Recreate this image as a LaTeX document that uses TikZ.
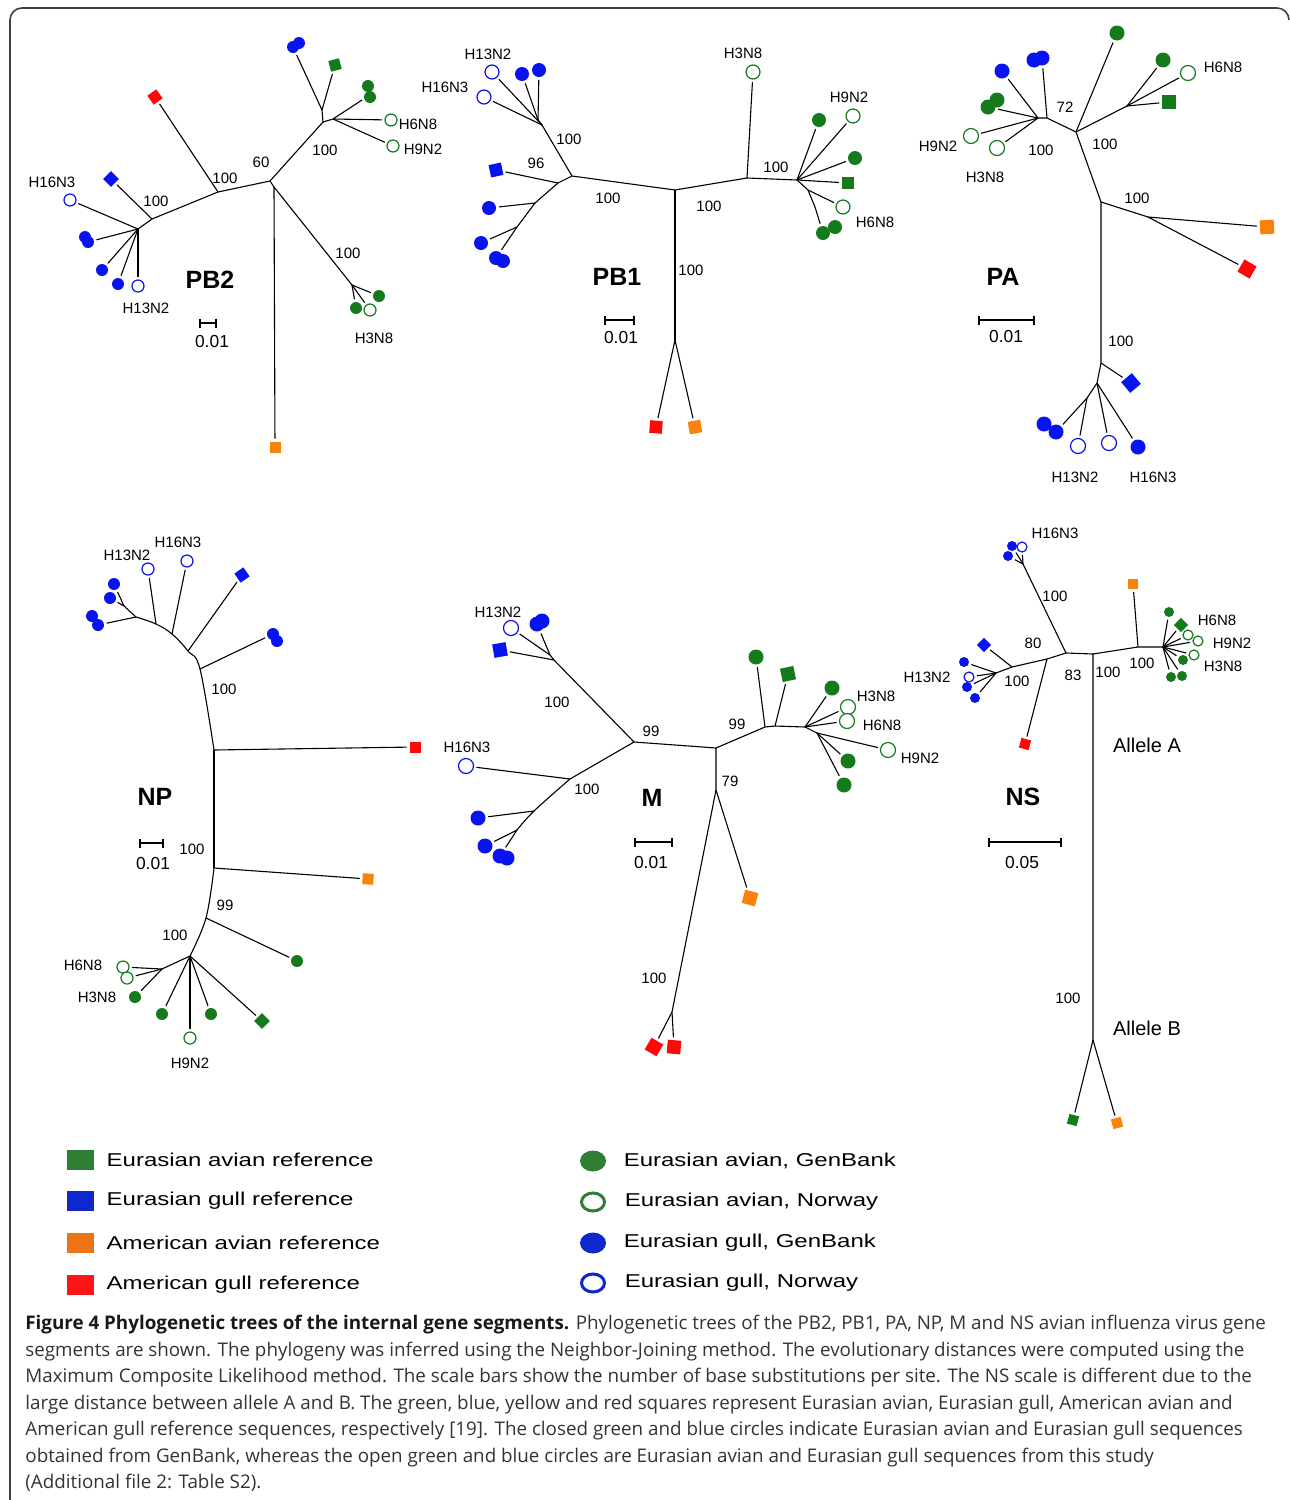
\documentclass[tikz,border=0pt]{standalone}
\usepackage{fontspec}
\setmainfont{Liberation Sans}
\newfontfamily\capfont{Open Sans}
\newfontfamily\legfont[FakeStretch=1.29]{Liberation Sans}
\usetikzlibrary{arrows.meta,positioning,shapes.geometric}

\definecolor{avgreen}{RGB}{20,122,28}
\definecolor{gullblue}{RGB}{8,20,238}
\definecolor{amorange}{RGB}{250,130,10}
\definecolor{amred}{RGB}{255,8,8}
\definecolor{legreen}{RGB}{46,126,52}
\definecolor{leblue}{RGB}{14,40,206}
\definecolor{leorange}{RGB}{236,116,22}
\definecolor{lered}{RGB}{250,22,22}

\newcommand\dotsz{6pt}
\newcommand\boxsz{5.5pt}

\tikzset{
  branch/.style={line width=0.55pt},
  twig/.style={line width=0.55pt, shorten >=1.2pt},
  dotleaf/.style={circle, inner sep=0pt, minimum size=\dotsz},
  boxleaf/.style={rectangle, inner sep=0pt, minimum size=\boxsz},
  avref/.style={boxleaf, fill=avgreen},
  gullref/.style={boxleaf, fill=gullblue},
  amavref/.style={boxleaf, fill=amorange},
  amgullref/.style={boxleaf, fill=amred},
  avgb/.style={dotleaf, fill=avgreen},
  avno/.style={dotleaf, draw=avgreen, fill=white, line width=0.6pt},
  gullgb/.style={dotleaf, fill=gullblue},
  gullno/.style={dotleaf, draw=gullblue, fill=white, line width=0.6pt},
  strain/.style={font=\fontsize{7.5}{9}\selectfont, inner sep=1pt},
  boot/.style={font=\fontsize{7.5}{9}\selectfont, inner sep=1pt},
  gene/.style={font=\fontsize{12.5}{15}\selectfont\bfseries},
  scalebar/.style={line width=0.8pt, {Bar[width=4.5pt]}-{Bar[width=4.5pt]}},
  scaletxt/.style={font=\fontsize{8.7}{10}\selectfont},
  allele/.style={font=\fontsize{10}{12}\selectfont},
  legbox/.style={rectangle, inner sep=0pt, minimum width=13.5pt, minimum height=10pt},
  legdot/.style={ellipse, inner sep=0pt, minimum width=13pt, minimum height=10.5pt},
  legtxt/.style={font=\legfont\fontsize{9.3}{11}\selectfont, inner sep=0pt},
  capnode/.style={font=\capfont\fontsize{9.4}{13.25}\selectfont, align=left, inner sep=0pt, text=black!80}
}

\begin{document}
\begin{tikzpicture}[x=0.5pt,y=-0.5pt]
\useasboundingbox (0,0) rectangle (1290,1500);
\draw[line width=0.8pt, black!75, rounded corners=6pt] (10,1500) -- (10,8) -- (1289,8) -- (1289,20);

% PB2
\begin{scope}
\renewcommand\dotsz{6pt}\renewcommand\boxsz{5.5pt}
\coordinate (pb2R) at (270,181);
\coordinate (pb2Q) at (274,187);
\coordinate (pb2A) at (218,192);
\coordinate (pb2B) at (152,219);
\coordinate (pb2C) at (138,229);
\coordinate (pb2D) at (323,122);
\coordinate (pb2E) at (322,110);
\coordinate (pb2F) at (333,119);
\coordinate (pb2Fg) at (362,100);
\coordinate (pb2G) at (352,285);
\node[amavref] (pb2or) at (275,447) {};
\node[amgullref, rotate=35] (pb2rd) at (155,97) {};
\node[gullref, rotate=45] (pb2bq) at (111,179) {};
\node[gullno] (pb2h16) at (70,200) {};
\node[gullgb] (pb2b1) at (88,242) {};
\node[gullgb] (pb2b2) at (85,237) {};
\node[gullgb] (pb2b3) at (102,270) {};
\node[gullgb] (pb2b4) at (118,284) {};
\node[gullno] (pb2h13) at (138,286) {};
\node[gullgb] (pb2b5) at (299,43) {};
\node[gullgb] (pb2b6) at (293,47) {};
\node[avref, rotate=15] (pb2gq) at (335,65) {};
\node[avgb] (pb2g1) at (368,86) {};
\node[avgb] (pb2g2) at (370,97) {};
\node[avno] (pb2h6) at (391,120) {};
\node[avno] (pb2h9) at (393,146) {};
\node[avgb] (pb2g3) at (379,296) {};
\node[avno] (pb2h3) at (370,310) {};
\node[avgb] (pb2g4) at (356,308) {};
\draw[branch] (pb2A) -- (pb2R) -- (pb2D) -- (pb2E);
\draw[branch] (pb2R) -- (pb2Q) -- (pb2G);
\draw[branch] (pb2A) -- (pb2B) -- (pb2C);
\draw[branch] (pb2D) -- (pb2F) -- (pb2Fg);
\draw[twig] (pb2Q) -- (pb2or);
\draw[twig] (pb2A) -- (pb2rd);
\draw[twig] (pb2B) -- (pb2bq);
\draw[twig] (pb2C) -- (pb2h16);
\draw[twig] (pb2C) -- (pb2b1);
\draw[twig] (pb2C) -- (pb2b3);
\draw[twig] (pb2C) -- (pb2b4);
\draw[twig] (pb2C) -- (pb2h13);
\draw[twig] (pb2E) -- (pb2b6);
\draw[twig] (pb2E) -- (pb2gq);
\draw[twig] (pb2Fg) -- (pb2g2);
\draw[twig] (pb2F) -- (pb2h6);
\draw[twig] (pb2F) -- (pb2h9);
\draw[twig] (pb2G) -- (pb2g3);
\draw[twig] (pb2G) -- (pb2h3);
\draw[twig] (pb2G) -- (pb2g4);
\node[strain] (pb2t16) at (52,182) {H16N3};
\node[strain] (pb2t13) at (146,308) {H13N2};
\node[strain] (pb2t6) at (418,124) {H6N8};
\node[strain] (pb2t9) at (423,149) {H9N2};
\node[strain] (pb2t3) at (374,338) {H3N8};
\node[boot] (pb2n1) at (225,178) {100};
\node[boot] (pb2n2) at (156,201) {100};
\node[boot] (pb2n3) at (261,162) {60};
\node[boot] (pb2n4) at (325,150) {100};
\node[boot] (pb2n5) at (348,253) {100};
\node[gene] (pb2) at (210,280) {PB2};
\coordinate (pb2s1) at (199,323);
\coordinate (pb2s2) at (217,323);
\draw[scalebar] (pb2s1) -- (pb2s2);
\node[scaletxt] (pb2st) at (212,342) {0.01};
\end{scope}

% PB1
\begin{scope}
\renewcommand\dotsz{7pt}\renewcommand\boxsz{6.3pt}
\coordinate (pb1R) at (675,190);
\coordinate (pb1S) at (675,340);
\coordinate (pb1A) at (572,176);
\coordinate (pb1B) at (542,125);
\coordinate (pb1Bb) at (538,120);
\coordinate (pb1C) at (558,183);
\coordinate (pb1D) at (535,203);
\coordinate (pb1E) at (517,227);
\coordinate (pb1F) at (747,178);
\coordinate (pb1G) at (797,180);
\coordinate (pb1Gb) at (808,190);
\coordinate (pb1Gc) at (815,207);
\node[amgullref, rotate=-5] (pb1rd) at (656,427) {};
\node[amavref, rotate=10] (pb1or) at (695,427) {};
\node[gullno] (pb1h16) at (484,97) {};
\node[gullno] (pb1h13) at (492,72) {};
\node[gullgb] (pb1b1) at (522,74) {};
\node[gullgb] (pb1b2) at (539,70) {};
\node[gullref, rotate=12] (pb1bq) at (496,170) {};
\node[gullgb] (pb1b3) at (489,208) {};
\node[gullgb] (pb1b4) at (481,243) {};
\node[gullgb] (pb1b5) at (496,258) {};
\node[gullgb] (pb1b6) at (503,261) {};
\node[avno] (pb1h3) at (753,72) {};
\node[avno] (pb1h9) at (853,116) {};
\node[avgb] (pb1g1) at (819,120) {};
\node[avgb] (pb1g2) at (855,158) {};
\node[avref] (pb1gq) at (848,183) {};
\node[avno] (pb1h6) at (843,207) {};
\node[avgb] (pb1g3) at (835,227) {};
\node[avgb] (pb1g4) at (823,233) {};
\draw[branch] (pb1B) -- (pb1A) -- (pb1R) -- (pb1F) -- (pb1G) -- (pb1Gb) -- (pb1Gc);
\draw[branch] (pb1A) -- (pb1C) -- (pb1D) -- (pb1E);
\draw[branch] (pb1R) -- (pb1S);
\draw[branch] (pb1B) -- (pb1Bb);
\draw[twig] (pb1S) -- (pb1rd);
\draw[twig] (pb1S) -- (pb1or);
\draw[twig] (pb1B) -- (pb1h16);
\draw[twig] (pb1B) -- (pb1h13);
\draw[twig] (pb1Bb) -- (pb1b1);
\draw[twig] (pb1Bb) -- (pb1b2);
\draw[twig] (pb1C) -- (pb1bq);
\draw[twig] (pb1D) -- (pb1b3);
\draw[twig] (pb1E) -- (pb1b4);
\draw[twig] (pb1E) -- (pb1b5);
\draw[twig] (pb1F) -- (pb1h3);
\draw[twig] (pb1G) -- (pb1h9);
\draw[twig] (pb1G) -- (pb1g1);
\draw[twig] (pb1G) -- (pb1g2);
\draw[twig] (pb1G) -- (pb1gq);
\draw[twig] (pb1Gb) -- (pb1h6);
\draw[twig] (pb1Gc) -- (pb1g4);
\node[strain] (pb1t13) at (488,54) {H13N2};
\node[strain] (pb1t16) at (445,87) {H16N3};
\node[strain] (pb1t3) at (743,53) {H3N8};
\node[strain] (pb1t9) at (849,97) {H9N2};
\node[strain] (pb1t6) at (875,222) {H6N8};
\node[boot] (pb1n1) at (569,139) {100};
\node[boot] (pb1n2) at (536,163) {96};
\node[boot] (pb1n3) at (608,198) {100};
\node[boot] (pb1n4) at (709,206) {100};
\node[boot] (pb1n5) at (776,167) {100};
\node[boot] (pb1n6) at (691,270) {100};
\node[gene] (pb1) at (617,277) {PB1};
\coordinate (pb1s1) at (604,320);
\coordinate (pb1s2) at (635,320);
\draw[scalebar] (pb1s1) -- (pb1s2);
\node[scaletxt] (pb1st) at (621,338) {0.01};
\end{scope}

% PA
\begin{scope}
\renewcommand\dotsz{7.5pt}\renewcommand\boxsz{7pt}
\coordinate (paR) at (1076,132);
\coordinate (paS) at (1101,202);
\coordinate (paT) at (1148,217);
\coordinate (paU) at (1101,363);
\coordinate (paV) at (1097,383);
\coordinate (paW) at (1087,398);
\coordinate (paY) at (1127,106);
\coordinate (paZ) at (1047,118);
\coordinate (paZb) at (1038,118);
\node[avgb] (pag1) at (1117,33) {};
\node[avgb] (pag2) at (1163,60) {};
\node[avno] (pah6) at (1188,73) {};
\node[avref] (pagq) at (1169,102) {};
\node[amavref, rotate=3] (paor) at (1267,227) {};
\node[amgullref, rotate=-30] (pard) at (1247,269) {};
\node[gullref, rotate=40] (pabq) at (1131,383) {};
\node[gullgb] (pab1) at (1044,424) {};
\node[gullgb] (pab2) at (1056,432) {};
\node[gullno] (pah13) at (1078,446) {};
\node[gullno] (pao2) at (1109,443) {};
\node[gullgb] (pab3) at (1138,447) {};
\node[gullgb] (pab4) at (1034,60) {};
\node[gullgb] (pab5) at (1042,58) {};
\node[gullgb] (pab6) at (1002,71) {};
\node[avno] (pah9) at (971,136) {};
\node[avno] (pah3) at (997,148) {};
\node[avgb] (pag3) at (988,107) {};
\node[avgb] (pag4) at (997,100) {};
\draw[branch] (paZb) -- (paZ) -- (paR) -- (paS) -- (paU) -- (paV) -- (paW);
\draw[branch] (paS) -- (paT);
\draw[branch] (paR) -- (paY);
\draw[twig] (paR) -- (pag1);
\draw[twig] (paY) -- (pag2);
\draw[twig] (paY) -- (pah6);
\draw[twig] (paY) -- (pagq);
\draw[twig] (paT) -- (paor);
\draw[twig] (paT) -- (pard);
\draw[twig] (paU) -- (pabq);
\draw[twig] (paW) -- (pab2);
\draw[twig] (paW) -- (pah13);
\draw[twig] (paV) -- (pao2);
\draw[twig] (paV) -- (pab3);
\draw[twig] (paZ) -- (pab5);
\draw[twig] (paZb) -- (pab6);
\draw[twig] (paZb) -- (pah9);
\draw[twig] (paZb) -- (pah3);
\draw[twig] (paZb) -- (pag3);
\node[strain] (pat6) at (1223,67) {H6N8};
\node[strain] (pat9) at (938,146) {H9N2};
\node[strain] (pat3) at (985,177) {H3N8};
\node[strain] (pat13) at (1075,477) {H13N2};
\node[strain] (pat16) at (1153,477) {H16N3};
\node[boot] (pan1) at (1065,107) {72};
\node[boot] (pan2) at (1041,150) {100};
\node[boot] (pan3) at (1105,144) {100};
\node[boot] (pan4) at (1137,198) {100};
\node[boot] (pan5) at (1121,341) {100};
\node[gene] (pa) at (1003,277) {PA};
\coordinate (pas1) at (978,320);
\coordinate (pas2) at (1035,320);
\draw[scalebar] (pas1) -- (pas2);
\node[scaletxt] (past) at (1006,337) {0.01};
\end{scope}

% NP
\begin{scope}
\renewcommand\dotsz{6pt}\renewcommand\boxsz{5.5pt}
\coordinate (npP4) at (136,617);
\coordinate (npP3) at (156,624);
\coordinate (npP2) at (172,634);
\coordinate (npP1) at (188,651);
\coordinate (npA) at (200,669);
\coordinate (npB) at (214,750);
\coordinate (npC) at (214,868);
\coordinate (npD) at (206,918);
\coordinate (npE) at (190,956);
\coordinate (npF) at (162,969);
\coordinate (npP5) at (124,606);
\node[gullref, rotate=35] (npbq) at (242,575) {};
\node[gullgb] (npb1) at (273,634) {};
\node[gullgb] (npb2) at (277,641) {};
\node[gullno] (nph16) at (187,561) {};
\node[gullno] (nph13) at (148,569) {};
\node[gullgb] (npb3) at (114,584) {};
\node[gullgb] (npb4) at (110,598) {};
\node[gullgb] (npb5) at (92,616) {};
\node[gullgb] (npb6) at (98,625) {};
\node[amgullref] (nprd) at (415,747) {};
\node[amavref, rotate=-3] (npor) at (368,879) {};
\node[avgb] (npg1) at (297,961) {};
\node[avref, rotate=45] (npgq) at (262,1021) {};
\node[avgb] (npg2) at (211,1014) {};
\node[avno] (nph9) at (190,1038) {};
\node[avgb] (npg3) at (162,1014) {};
\node[avno] (npo1) at (123,967) {};
\node[avno] (npo2) at (127,978) {};
\node[avgb] (npg4) at (135,997) {};
\draw[branch] plot[smooth, tension=0.6] coordinates {(npP4) (npP3) (npP2) (npP1) (npA) (npB)};
\draw[branch] (npB) -- (npC);
\draw[branch] plot[smooth, tension=0.6] coordinates {(npC) (npD) (npE)};
\draw[branch] (npE) -- (npF);
\draw[branch] (npP4) -- (npP5);
\draw[twig] (npP1) -- (npbq);
\draw[twig] (npA) -- (npb1);
\draw[twig] (npP2) -- (nph16);
\draw[twig] (npP3) -- (nph13);
\draw[twig] (npP5) -- (npb3);
\draw[twig] (npP5) -- (npb4);
\draw[twig] (npP4) -- (npb6);
\draw[twig] (npB) -- (nprd);
\draw[twig] (npC) -- (npor);
\draw[twig] (npD) -- (npg1);
\draw[twig] (npE) -- (npgq);
\draw[twig] (npE) -- (npg2);
\draw[twig] (npE) -- (nph9);
\draw[twig] (npE) -- (npg3);
\draw[twig] (npF) -- (npo1);
\draw[twig] (npF) -- (npo2);
\draw[twig] (npF) -- (npg4);
\node[strain] (npt13) at (127,555) {H13N2};
\node[strain] (npt16) at (178,542) {H16N3};
\node[strain] (npt6) at (83,965) {H6N8};
\node[strain] (npt3) at (97,997) {H3N8};
\node[strain] (npt9) at (190,1063) {H9N2};
\node[boot] (npn1) at (224,689) {100};
\node[boot] (npn2) at (192,849) {100};
\node[boot] (npn3) at (225,905) {99};
\node[boot] (npn4) at (175,935) {100};
\node[gene] (np) at (155,797) {NP};
\coordinate (nps1) at (139,843);
\coordinate (nps2) at (164,843);
\draw[scalebar] (nps1) -- (nps2);
\node[scaletxt] (npst) at (153,863) {0.01};
\end{scope}

% M
\begin{scope}
\renewcommand\dotsz{7.5pt}\renewcommand\boxsz{6.8pt}
\coordinate (mA) at (634,742);
\coordinate (mB) at (554,660);
\coordinate (mBb) at (550,655);
\coordinate (mC) at (570,779);
\coordinate (mD) at (534,811);
\coordinate (mE) at (517,830);
\coordinate (mF) at (716,748);
\coordinate (mG) at (765,727);
\coordinate (mGb) at (775,726);
\coordinate (mH) at (805,727);
\coordinate (mHb) at (817,733);
\coordinate (mI) at (716,790);
\coordinate (mJ) at (672,1012);
\node[gullref, rotate=10] (mbq) at (500,650) {};
\node[gullno] (mh13) at (511,628) {};
\node[gullgb] (mb1) at (537,624) {};
\node[gullgb] (mb2) at (542,621) {};
\node[gullno] (mh16) at (466,766) {};
\node[gullgb] (mb3) at (478,818) {};
\node[gullgb] (mb4) at (485,846) {};
\node[gullgb] (mb5) at (500,856) {};
\node[gullgb] (mb6) at (507,858) {};
\node[avgb] (mg1) at (756,657) {};
\node[avref, rotate=12] (mgq) at (788,674) {};
\node[avgb] (mg2) at (832,688) {};
\node[avno] (mh3) at (848,707) {};
\node[avno] (mh6) at (847,721) {};
\node[avno] (mh9) at (888,750) {};
\node[avgb] (mg3) at (848,761) {};
\node[avgb] (mg4) at (844,785) {};
\node[amavref, rotate=-15] (mor) at (750,898) {};
\node[amgullref, rotate=-30] (mrd1) at (654,1047) {};
\node[amgullref, rotate=-5] (mrd2) at (674,1047) {};
\draw[branch] (mB) -- (mA) -- (mF) -- (mG) -- (mGb) -- (mH) -- (mHb);
\draw[branch] (mA) -- (mC);
\draw[branch] plot[smooth, tension=0.6] coordinates {(mC) (mD) (mE)};
\draw[branch] (mF) -- (mI) -- (mJ);
\draw[branch] (mB) -- (mBb);
\draw[twig] (mB) -- (mbq);
\draw[twig] (mBb) -- (mh13);
\draw[twig] (mBb) -- (mb1);
\draw[twig] (mC) -- (mh16);
\draw[twig] (mD) -- (mb3);
\draw[twig] (mE) -- (mb4);
\draw[twig] (mE) -- (mb5);
\draw[twig] (mG) -- (mg1);
\draw[twig] (mGb) -- (mgq);
\draw[twig] (mH) -- (mg2);
\draw[twig] (mH) -- (mh3);
\draw[twig] (mH) -- (mh6);
\draw[twig] (mHb) -- (mh9);
\draw[twig] (mHb) -- (mg3);
\draw[twig] (mHb) -- (mg4);
\draw[twig] (mI) -- (mor);
\draw[twig] (mJ) -- (mrd1);
\draw[twig] (mJ) -- (mrd2);
\node[strain] (mt13) at (498,612) {H13N2};
\node[strain] (mt16) at (467,747) {H16N3};
\node[strain] (mt3) at (876,696) {H3N8};
\node[strain] (mt6) at (882,725) {H6N8};
\node[strain] (mt9) at (920,758) {H9N2};
\node[boot] (mn1) at (651,731) {99};
\node[boot] (mn2) at (557,702) {100};
\node[boot] (mn3) at (587,789) {100};
\node[boot] (mn4) at (737,724) {99};
\node[boot] (mn5) at (730,781) {79};
\node[boot] (mn6) at (654,978) {100};
\node[gene] (mm) at (652,798) {M};
\coordinate (ms1) at (634,842);
\coordinate (ms2) at (673,842);
\draw[scalebar] (ms1) -- (ms2);
\node[scaletxt] (mst) at (651,862) {0.01};
\end{scope}

% NS
\begin{scope}
\renewcommand\dotsz{5pt}\renewcommand\boxsz{5pt}
\coordinate (nsR) at (1066,653);
\coordinate (nsS) at (1093,654);
\coordinate (nsK) at (1023,564);
\coordinate (nsT) at (1047,659);
\coordinate (nsU) at (1012,667);
\coordinate (nsV) at (996,673);
\coordinate (nsW) at (1093,1040);
\coordinate (nsX) at (1138,647);
\coordinate (nsY) at (1163,647);
\node[gullgb] (nsb1) at (1008,556) {};
\node[gullgb] (nsb2) at (1012,546) {};
\node[gullno] (nsh16) at (1022,547) {};
\node[amgullref, rotate=-15] (nsrd) at (1025,744) {};
\node[gullref, rotate=45] (nsbq) at (984,645) {};
\node[gullgb] (nsb3) at (964,662) {};
\node[gullno] (nsh13) at (969,677) {};
\node[gullgb] (nsb4) at (967,687) {};
\node[gullgb] (nsb5) at (975,698) {};
\node[avref, rotate=-15] (nsgq) at (1073,1120) {};
\node[amavref, rotate=15] (nsor2) at (1117,1123) {};
\node[amavref] (nsor1) at (1133,584) {};
\node[avgb] (nsg1) at (1169,612) {};
\node[avref, rotate=45] (nsgd) at (1181,625) {};
\node[avno] (nso1) at (1188,635) {};
\node[avno] (nso2) at (1198,641) {};
\node[avno] (nso3) at (1194,655) {};
\node[avgb] (nsg2) at (1183,660) {};
\node[avgb] (nsg3) at (1171,677) {};
\node[avgb] (nsg4) at (1182,676) {};
\draw[branch] (nsK) -- (nsR) -- (nsS) -- (nsW);
\draw[branch] (nsR) -- (nsT) -- (nsU) -- (nsV);
\draw[branch] (nsS) -- (nsX) -- (nsY);
\draw[twig] (nsK) -- (nsb1);
\draw[twig] (nsK) -- (nsb2);
\draw[twig] (nsK) -- (nsh16);
\draw[twig] (nsT) -- (nsrd);
\draw[twig] (nsU) -- (nsbq);
\draw[twig] (nsV) -- (nsb3);
\draw[twig] (nsV) -- (nsh13);
\draw[twig] (nsV) -- (nsb4);
\draw[twig] (nsV) -- (nsb5);
\draw[twig] (nsW) -- (nsgq);
\draw[twig] (nsW) -- (nsor2);
\draw[twig] (nsX) -- (nsor1);
\draw[twig] (nsY) -- (nsg1);
\draw[twig] (nsY) -- (nsgd);
\draw[twig] (nsY) -- (nso1);
\draw[twig] (nsY) -- (nso2);
\draw[twig] (nsY) -- (nso3);
\draw[twig] (nsY) -- (nsg2);
\draw[twig] (nsY) -- (nsg3);
\draw[twig] (nsY) -- (nsg4);
\node[strain] (nst16) at (1055,533) {H16N3};
\node[strain] (nst13) at (927,677) {H13N2};
\node[strain] (nst6) at (1217,620) {H6N8};
\node[strain] (nst9) at (1232,643) {H9N2};
\node[strain] (nst3) at (1223,666) {H3N8};
\node[boot] (nsn1) at (1055,596) {100};
\node[boot] (nsn2) at (1033,643) {80};
\node[boot] (nsn3) at (1017,681) {100};
\node[boot] (nsn4) at (1073,675) {83};
\node[boot] (nsn5) at (1108,672) {100};
\node[boot] (nsn6) at (1142,663) {100};
\node[boot] (nsn7) at (1068,998) {100};
\node[allele] (nsalA) at (1147,745) {Allele A};
\node[allele] (nsalB) at (1147,1028) {Allele B};
\node[gene] (ns) at (1023,797) {NS};
\coordinate (nss1) at (988,842);
\coordinate (nss2) at (1062,842);
\draw[scalebar] (nss1) -- (nss2);
\node[scaletxt] (nsst) at (1022,862) {0.05};
\end{scope}

% legend
\node[legbox, fill=legreen] (lk1) at (80,1160) {};
\node[legbox, fill=leblue] (lk2) at (80,1201) {};
\node[legbox, fill=leorange] (lk3) at (80,1243) {};
\node[legbox, fill=lered] (lk4) at (80,1285) {};
\node[legtxt, right=6.2pt of lk1] (lt1) {Eurasian avian reference};
\node[legtxt, right=6.2pt of lk2] (lt2) {Eurasian gull reference};
\node[legtxt, right=6.2pt of lk3] (lt3) {American avian reference};
\node[legtxt, right=6.2pt of lk4] (lt4) {American gull reference};
\node[legdot, fill=legreen] (ld1) at (593,1161) {};
\node[legdot, draw=legreen, line width=1.5pt, minimum width=11.5pt, minimum height=9pt] (ld2) at (593,1202) {};
\node[legdot, fill=leblue] (ld3) at (593,1243) {};
\node[legdot, draw=leblue, line width=1.5pt, minimum width=11.5pt, minimum height=9pt] (ld4) at (593,1283) {};
\node[legtxt, right=8.5pt of ld1] (lu1) {Eurasian avian, GenBank};
\node[legtxt, right=9.2pt of ld2] (lu2) {Eurasian avian, Norway};
\node[legtxt, right=8.5pt of ld3] (lu3) {Eurasian gull, GenBank};
\node[legtxt, right=9.2pt of ld4] (lu4) {Eurasian gull, Norway};

% caption
\node[capnode, anchor=north west] (caption) at (25,1315) {%
{\bfseries\color{black!90}Figure 4 Phylogenetic trees of the internal gene segments.} Phylogenetic trees of the PB2, PB1, PA, NP, M and NS avian influenza virus gene\\
segments are shown. The phylogeny was inferred using the Neighbor-Joining method. The evolutionary distances were computed using the\\
Maximum Composite Likelihood method. The scale bars show the number of base substitutions per site. The NS scale is different due to the\\
large distance between allele A and B. The green, blue, yellow and red squares represent Eurasian avian, Eurasian gull, American avian and\\
American gull reference sequences, respectively [19]. The closed green and blue circles indicate Eurasian avian and Eurasian gull sequences\\
obtained from GenBank, whereas the open green and blue circles are Eurasian avian and Eurasian gull sequences from this study\\
(Additional file 2: Table S2).};
\end{tikzpicture}
\end{document}
